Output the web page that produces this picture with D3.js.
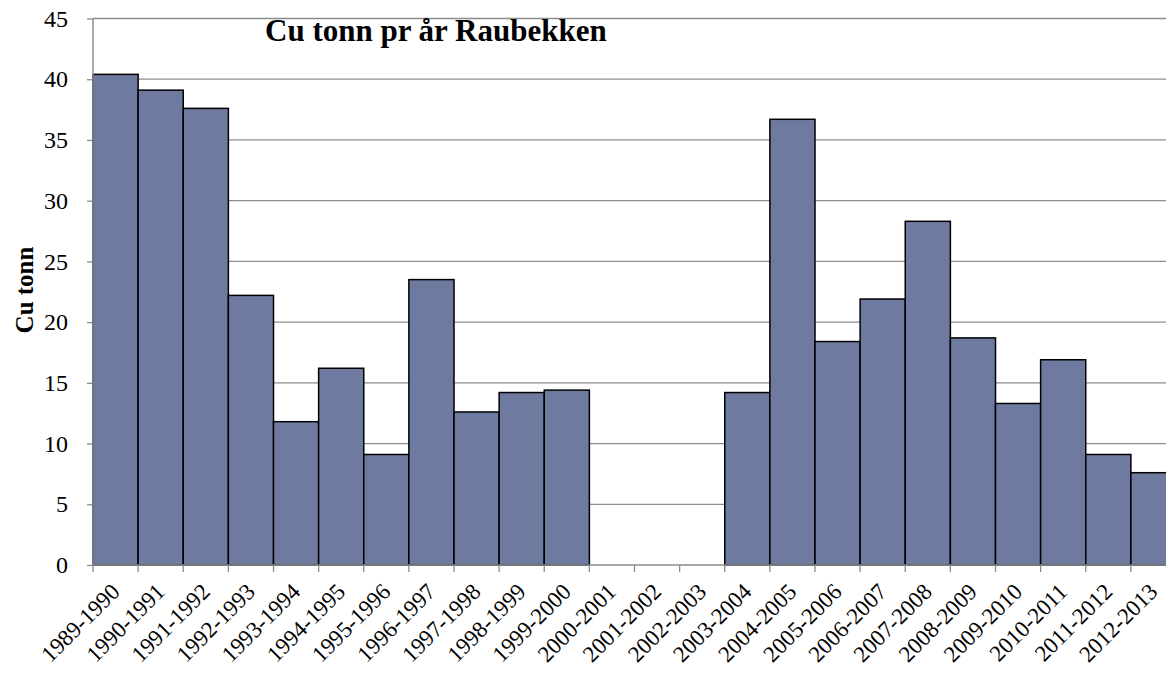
<!DOCTYPE html>
<html>
<head>
<meta charset="utf-8">
<script src="https://cdn.jsdelivr.net/npm/d3@7/dist/d3.min.js"></script>
<style>
  html, body { margin: 0; padding: 0; background: #fff; overflow: hidden; }
  svg { display: block; }
</style>
</head>
<body>
<svg id="chart" width="1166" height="674"></svg>
<script>
// Seasons (hydrological years)
const seasons = [
  "1989-1990", "1990-1991", "1991-1992", "1992-1993", "1993-1994", "1994-1995",
  "1995-1996", "1996-1997", "1997-1998", "1998-1999", "1999-2000", "2000-2001",
  "2001-2002", "2002-2003", "2003-2004", "2004-2005", "2005-2006", "2006-2007",
  "2007-2008", "2008-2009", "2009-2010", "2010-2011", "2011-2012", "2012-2013"
];
// Copper transport, tonnes per year (null = no measurement)
const cuTonn = [
  40.4, 39.1, 37.6, 22.2, 11.8, 16.2,
  9.1, 23.5, 12.6, 14.2, 14.4, null,
  null, null, 14.2, 36.7, 18.4, 21.9,
  28.3, 18.7, 13.3, 16.9, 9.1, 7.6
];
const yTicks = [0, 5, 10, 15, 20, 25, 30, 35, 40, 45];

const title = "Cu tonn pr år Raubekken";
const yLabel = "Cu tonn";

const FONT = "'Liberation Serif', 'Times New Roman', Times, serif";

const svg = d3.select("#chart");
const plotLeft = 93, plotRight = 1176, plotTop = 18.5, plotBottom = 565;

const x = d3.scaleBand().domain(seasons).range([plotLeft, plotRight]).padding(0);
const y = d3.scaleLinear().domain([0, 45]).range([plotBottom, plotTop]);

// Horizontal grid lines
svg.append("g")
  .selectAll("line")
  .data(yTicks.filter(d => d > 0))
  .join("line")
  .attr("x1", plotLeft).attr("x2", plotRight)
  .attr("y1", d => y(d)).attr("y2", d => y(d))
  .attr("stroke", "#8c8c8c").attr("stroke-width", 1.3);

// Bars
const data = seasons.map((s, i) => ({ s, v: cuTonn[i] })).filter(d => d.v != null);
svg.append("g")
  .selectAll("rect")
  .data(data)
  .join("rect")
  .attr("x", d => x(d.s))
  .attr("y", d => y(d.v))
  .attr("width", x.bandwidth())
  .attr("height", d => y(0) - y(d.v))
  .attr("fill", "#6f7aa0")
  .attr("stroke", "#000")
  .attr("stroke-width", 1.5);

// Y axis
const yAxis = svg.append("g")
  .attr("transform", `translate(${plotLeft},0)`)
  .call(d3.axisLeft(y).tickValues(yTicks).tickSize(6).tickPadding(19).tickFormat(d3.format("d")));
yAxis.attr("font-family", null).attr("font-size", null);
yAxis.select(".domain").attr("stroke", "#8c8c8c").attr("stroke-width", 1.5)
  .attr("d", `M0,${plotTop}V${plotBottom}`);
yAxis.selectAll(".tick line").attr("stroke", "#8c8c8c").attr("stroke-width", 1.3);
yAxis.selectAll(".tick text")
  .style("font-family", FONT).style("font-size", "24px").attr("fill", "#000");

// X axis: ticks on band boundaries, labels at band centres
const xg = svg.append("g").attr("transform", `translate(0,${plotBottom})`);
xg.append("line").attr("x1", plotLeft).attr("x2", plotRight).attr("y1", 0).attr("y2", 0)
  .attr("stroke", "#8c8c8c").attr("stroke-width", 1.5);
xg.selectAll("line.tk")
  .data(seasons)
  .join("line")
  .attr("class", "tk")
  .attr("x1", d => x(d)).attr("x2", d => x(d))
  .attr("y1", 0).attr("y2", 7)
  .attr("stroke", "#8c8c8c").attr("stroke-width", 1.3);
xg.selectAll("text")
  .data(seasons)
  .join("text")
  .attr("transform", d => `translate(${x(d) + x.bandwidth() / 2 + 5.5},${28}) rotate(-45)`)
  .attr("text-anchor", "end")
  .attr("fill", "#000")
  .style("font-family", FONT)
  .style("font-size", "23px")
  .text(d => d);

// Title
svg.append("text")
  .attr("x", 265).attr("y", 41)
  .attr("fill", "#000")
  .style("font-family", FONT)
  .style("font-size", "31px").style("font-weight", "bold")
  .text(title);

// Y axis label
svg.append("text")
  .attr("transform", `translate(33,290) rotate(-90)`)
  .attr("text-anchor", "middle")
  .attr("fill", "#000")
  .style("font-family", FONT)
  .style("font-size", "25px").style("font-weight", "bold")
  .text(yLabel);
</script>
</body>
</html>
